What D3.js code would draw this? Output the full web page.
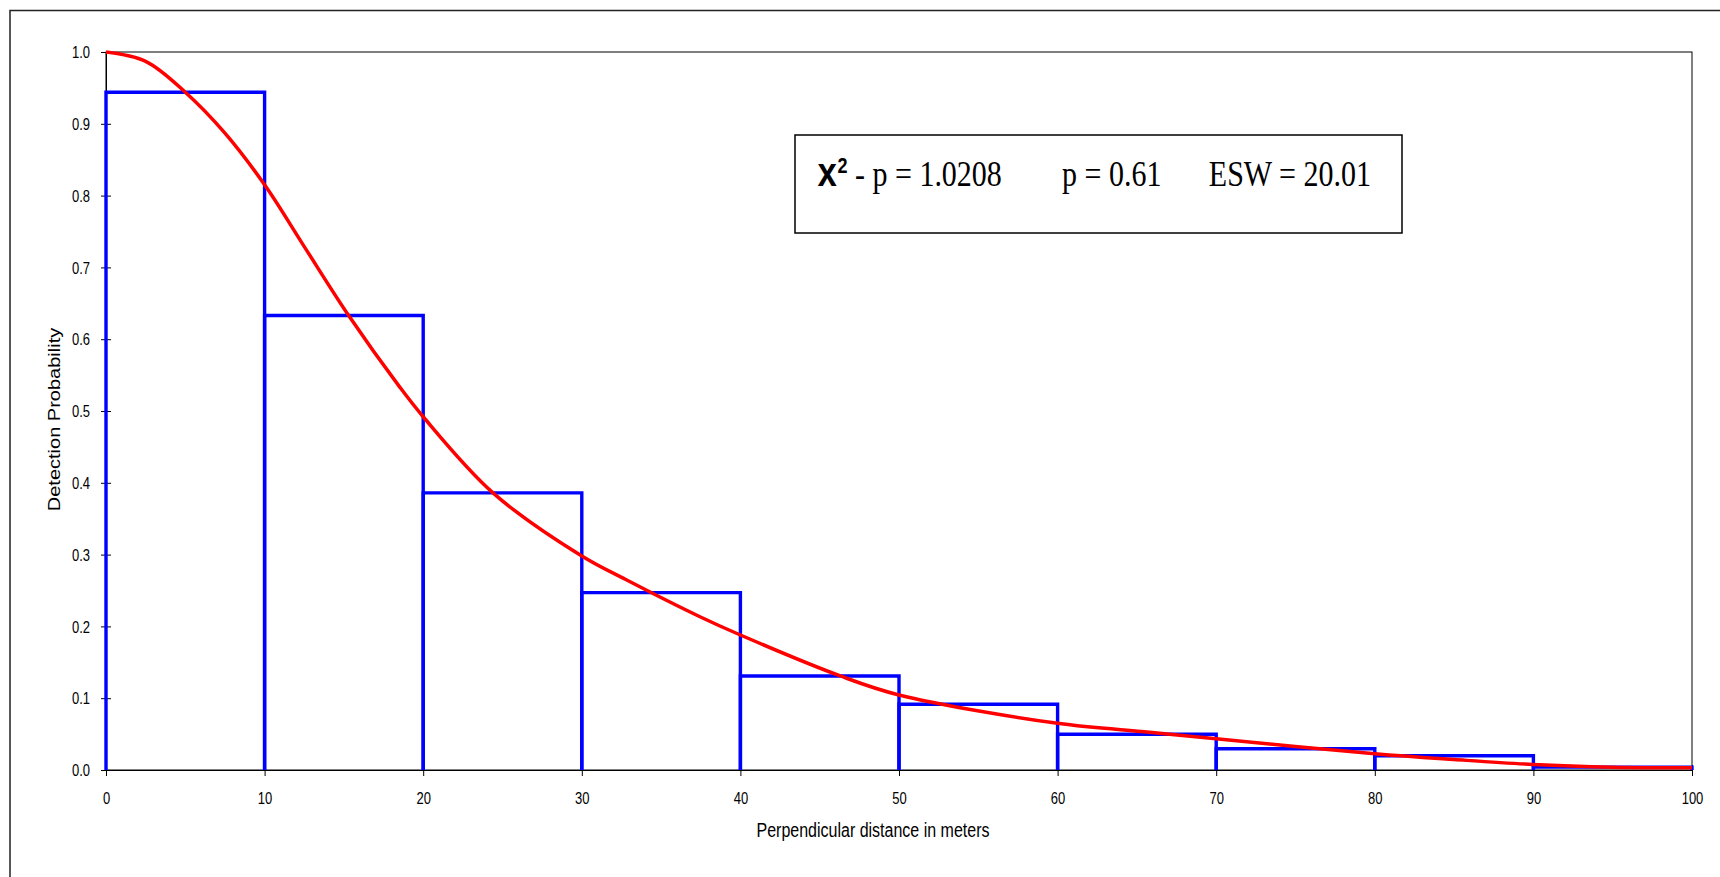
<!DOCTYPE html>
<html>
<head>
<meta charset="utf-8">
<script src="https://cdn.jsdelivr.net/npm/d3@7"></script>
<style>
  body { margin: 0; background: #fff; }
  svg { display: block; }
  .tick text { font-family: Arial, "Liberation Sans", sans-serif; font-size: 13px; fill: #000; }
</style>
</head>
<body>
<div id="chart"></div>
<script>
// histogram of detections, 10 m bins
var binEdges = [0, 10, 20, 30, 40, 50, 60, 70, 80, 90, 100];
var binProb = [0.944, 0.633, 0.386, 0.247, 0.131, 0.0915, 0.0497, 0.0295, 0.0198, 0.004];

// fitted detection curve
var curveDist = [0, 2.5, 5, 7.5, 10, 12.5, 15.3, 18.5, 20, 24.4, 30, 32.8, 37.45, 40, 46.3, 50, 60, 65.8, 70, 80, 85, 90, 95, 100];
var curveProb = [1.0, 0.987, 0.944, 0.887, 0.815, 0.729, 0.633, 0.534, 0.492, 0.386, 0.298, 0.265, 0.2135, 0.188, 0.131, 0.1045, 0.065, 0.0527, 0.0435, 0.0226, 0.0146, 0.0077, 0.004, 0.003];

var xTicks = [0, 10, 20, 30, 40, 50, 60, 70, 80, 90, 100];
var yTicks = [0, 0.1, 0.2, 0.3, 0.4, 0.5, 0.6, 0.7, 0.8, 0.9, 1.0];

var statLabels = ["- p = 1.0208", "p = 0.61", "ESW = 20.01"];

var width = 1720, height = 877;
var margin = {left: 106, top: 52, right: 28, bottom: 107};
var stretch = 1.22;   // the original picture is taller than it is wide, text included

var svg = d3.select("#chart").append("svg")
    .attr("width", width)
    .attr("height", height);

// outer frame (runs off the right and bottom of the page)
svg.append("rect")
    .attr("x", 10).attr("y", 10.5)
    .attr("width", width + 20).attr("height", height + 20)
    .attr("fill", "none")
    .attr("stroke", "#222")
    .attr("stroke-width", 1.5);

var x = d3.scaleLinear().domain([0, 100]).range([margin.left, width - margin.right]);
var y = d3.scaleLinear().domain([0, 1]).range([height - margin.bottom, margin.top]);

// plot area border
svg.append("rect")
    .attr("x", x(0)).attr("y", y(1))
    .attr("width", x(100) - x(0)).attr("height", y(0) - y(1))
    .attr("fill", "none")
    .attr("stroke", "#000")
    .attr("stroke-width", 1);

var yAxis = d3.axisLeft(y).tickValues(yTicks).tickFormat(d3.format(".1f"))
    .tickSizeInner(5).tickSizeOuter(0);
var gy = svg.append("g").attr("transform", "translate(" + x(0) + ",0)").call(yAxis);
gy.selectAll(".tick line").attr("x1", 5).attr("x2", -5);
gy.selectAll(".tick text")
    .attr("x", -16).attr("dy", "0.36em")
    .attr("transform", "scale(1," + stretch + ")");

var xAxis = d3.axisBottom(x).tickValues(xTicks).tickSizeInner(6).tickSizeOuter(0);
var gx = svg.append("g").attr("transform", "translate(0," + y(0) + ")").call(xAxis);
gx.selectAll(".tick line").attr("y1", -5).attr("y2", 6);
gx.selectAll(".tick text")
    .attr("y", 0).attr("dy", "0.36em")
    .attr("transform", "translate(0,28) scale(1," + stretch + ")");
svg.selectAll(".domain").attr("stroke", "#000");

// histogram bars: left side, top, right side
var bars = svg.append("g");
binProb.forEach(function(p, i) {
    var path = d3.path();
    path.moveTo(x(binEdges[i]), y(0));
    path.lineTo(x(binEdges[i]), y(p));
    path.lineTo(x(binEdges[i + 1]), y(p));
    path.lineTo(x(binEdges[i + 1]), y(0));
    bars.append("path")
        .attr("d", path.toString())
        .attr("fill", "none")
        .attr("stroke", "#0000ff")
        .attr("stroke-width", 3.4);
});

// fitted curve
var line = d3.line()
    .x(function(d, i) { return x(curveDist[i]); })
    .y(function(d) { return y(d); })
    .curve(d3.curveCatmullRom.alpha(0.5));
svg.append("path")
    .datum(curveProb)
    .attr("d", line)
    .attr("fill", "none")
    .attr("stroke", "#ff0000")
    .attr("stroke-width", 3.5);

// axis titles
svg.append("g")
    .attr("transform", "translate(873,836.5) scale(1,1.25)")
  .append("text")
    .attr("text-anchor", "middle")
    .style("font-family", "Arial, 'Liberation Sans', sans-serif")
    .style("font-size", "16px")
    .text("Perpendicular distance in meters");

svg.append("text")
    .attr("transform", "translate(59.5,419.5) rotate(-90) scale(1.25,1)")
    .attr("text-anchor", "middle")
    .style("font-family", "Arial, 'Liberation Sans', sans-serif")
    .style("font-size", "16px")
    .text("Detection Probability");

// statistics box
svg.append("rect")
    .attr("x", 795).attr("y", 135)
    .attr("width", 607).attr("height", 98)
    .attr("fill", "#fff")
    .attr("stroke", "#000")
    .attr("stroke-width", 1.5);

var stats = svg.append("g")
    .attr("transform", "translate(0,186) scale(1," + stretch + ")")
  .append("text")
    .style("font-family", "'Times New Roman', 'Liberation Serif', serif")
    .style("font-size", "30px");
stats.append("tspan")
    .attr("x", 817)
    .style("font-family", "'Courier New', 'Liberation Mono', monospace")
    .style("font-weight", "bold")
    .style("font-size", "34px")
    .text("x");
stats.append("tspan")
    .attr("dy", -11)
    .style("font-family", "Arial, 'Liberation Sans', sans-serif")
    .style("font-weight", "bold")
    .style("font-size", "18px")
    .text("2");
stats.append("tspan").attr("x", 855).attr("dy", 11).text(statLabels[0]);
stats.append("tspan").attr("x", 1062).text(statLabels[1]);
stats.append("tspan").attr("x", 1371).attr("text-anchor", "end").text(statLabels[2]);
</script>
</body>
</html>
